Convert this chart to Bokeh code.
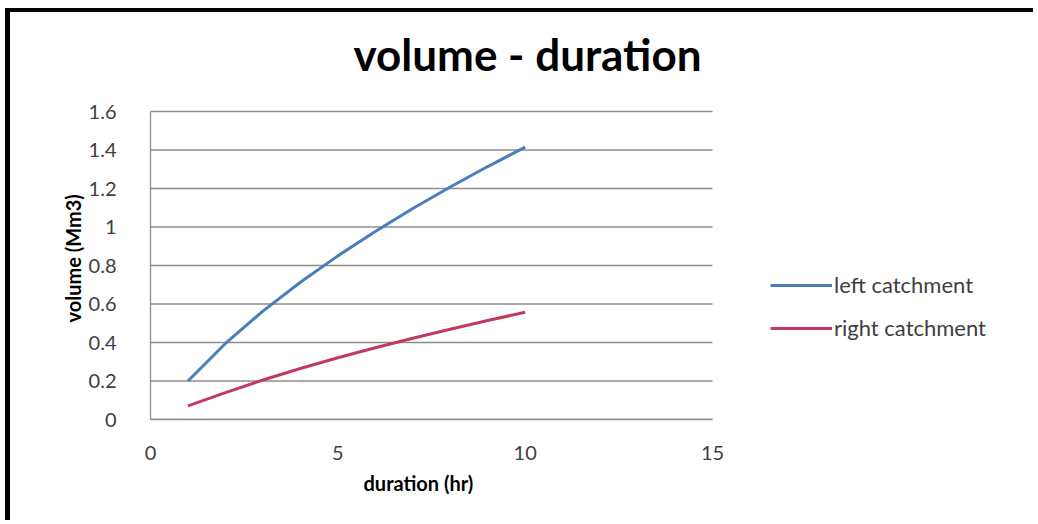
from bokeh.plotting import figure
from bokeh.models import FixedTicker, Legend, LegendItem, Range1d, Title, Label
from bokeh.embed import file_html
from bokeh.resources import INLINE

# data
duration = [1, 2, 3, 4, 5, 6, 7, 8, 9, 10]
left_catchment = [0.20, 0.395, 0.563, 0.713, 0.85, 0.977, 1.096, 1.208, 1.314, 1.415]
right_catchment = [0.071, 0.14, 0.205, 0.265, 0.321, 0.373, 0.422, 0.469, 0.514, 0.557]
x_ticks = [0, 5, 10, 15]
y_ticks = [0, 0.2, 0.4, 0.6, 0.8, 1.0, 1.2, 1.4, 1.6]
y_tick_labels = ["0", "0.2", "0.4", "0.6", "0.8", "1", "1.2", "1.4", "1.6"]
title_text = "volume - duration"
x_label = "duration (hr)"
y_label = "volume (Mm3)"
series_names = ["left catchment", "right catchment"]

FONT = "Lato"
GRID = "#8c8c8c"
TXT = "#404040"

X_MAX = x_ticks[-1]
Y_MAX = y_ticks[-1]
# the frame covers the whole canvas above the x axis and right of the y axis;
# the axis extent (0..15, 0..1.6) occupies 562 x 308 px of it
FRAME_W, FRAME_H = 888, 407
AX_W, AX_H = 562, 308
p = figure(width=1028, height=512, output_backend="svg", toolbar_location=None, title=None,
           x_range=Range1d(0, X_MAX * FRAME_W / AX_W), y_range=Range1d(0, Y_MAX * FRAME_H / AX_H),
           min_border_left=140, min_border_right=0, min_border_top=0, min_border_bottom=105)
p.styles = {"border-left": "5px solid black", "border-top": "4px solid black",
            "margin-top": "8px", "margin-left": "5px"}
p.outline_line_color = None
p.background_fill_color = "white"
p.border_fill_color = "white"

# horizontal gridlines limited to the axis extent
p.xgrid.grid_line_color = None
p.ygrid.grid_line_color = None
p.segment(x0=[x_ticks[0]] * len(y_ticks), x1=[X_MAX] * len(y_ticks), y0=y_ticks, y1=y_ticks,
          line_color=GRID, line_width=1.3)

p.xaxis.ticker = FixedTicker(ticks=x_ticks)
p.xaxis.bounds = (x_ticks[0], X_MAX)
p.yaxis.ticker = FixedTicker(ticks=y_ticks)
p.yaxis.bounds = (y_ticks[0], Y_MAX)
p.yaxis.major_label_overrides = {t: l for t, l in zip(y_ticks, y_tick_labels)}
for ax in (p.xaxis, p.yaxis):
    ax.axis_line_color = GRID
    ax.axis_line_width = 1.3
    ax.major_tick_line_color = None
    ax.minor_tick_line_color = None
    ax.major_label_text_font = FONT
    ax.major_label_text_font_size = "20px"
    ax.major_label_text_color = TXT
p.xaxis.major_label_standoff = 20
p.yaxis.major_label_standoff = 28

# axis titles placed along the 0..15 / 0..1.6 extents
xlab = Title(text=x_label, align="left", offset=213, standoff=12,
             text_font=FONT, text_font_size="20px", text_font_style="bold", text_color="black")
p.add_layout(xlab, "below")
ylab = Title(text=y_label, align="left", offset=97, standoff=2,
             text_font=FONT, text_font_size="20px", text_font_style="bold", text_color="black")
p.add_layout(ylab, "left")

# chart title, inside the (extended) frame above the plot area
title = Label(x=X_MAX * (527 - 150) / AX_W, y=Y_MAX * (419 - 53) / AX_H, text=title_text,
              text_align="center", text_baseline="alphabetic", text_font=FONT,
              text_font_size="44px", text_font_style="bold", text_color="black")
p.add_layout(title)

r1 = p.line(duration, left_catchment, line_color="#4A7EBB", line_width=3)
r2 = p.line(duration, right_catchment, line_color="#C23B5E", line_width=3)

legend = Legend(items=[LegendItem(label=series_names[0], renderers=[r1]),
                       LegendItem(label=series_names[1], renderers=[r2])],
                location=(620, 78), padding=0, margin=0, spacing=16,
                glyph_width=62, glyph_height=22, label_standoff=2,
                label_text_font=FONT, label_text_font_size="22px", label_text_color=TXT,
                border_line_color=None, background_fill_alpha=0)
p.add_layout(legend, "center")

open("out.html", "w").write(file_html(p, INLINE))
